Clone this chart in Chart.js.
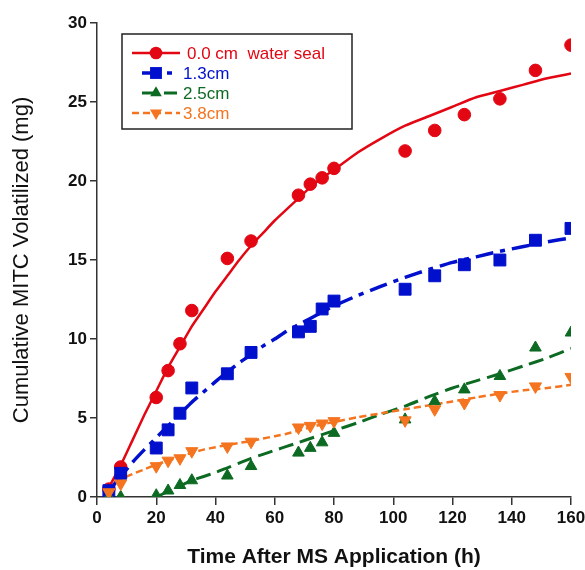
<!DOCTYPE html>
<html>
<head>
    <meta charset="UTF-8">
    <title>Cumulative MITC Volatilized</title>
    <script src="https://cdn.jsdelivr.net/npm/chart.js"></script>
    <style>
        body {
            margin: 0;
            background: #ffffff;
        }
        .chart-container {
            position: relative;
            width: 585px;
            height: 570px;
        }
    </style>
</head>
<body>
    <div class="chart-container">
        <canvas id="mitcChart"></canvas>
    </div>

    <script>
        // Measured data (hours after MS application)
        var sampleHours = [4, 8, 20, 24, 28, 32, 44, 52, 68, 72, 76, 80, 104, 114, 124, 136, 148, 160];
        var seal00 = [0.5, 1.9, 6.3, 8.0, 9.7, 11.8, 15.1, 16.2, 19.1, 19.8, 20.2, 20.8, 21.9, 23.2, 24.2, 25.2, 27.0, 28.6];
        var seal13 = [0.4, 1.5, 3.1, 4.25, 5.3, 6.9, 7.8, 9.15, 10.45, 10.8, 11.9, 12.4, 13.15, 14.0, 14.7, 15.0, 16.25, 17.0];
        var seal25 = [0, 0, 0.1, 0.4, 0.75, 1.05, 1.35, 1.95, 2.8, 3.1, 3.45, 4.05, 4.9, 6.05, 6.8, 7.65, 9.45, 10.4];
        var seal38 = [0.3, 0.85, 1.95, 2.3, 2.45, 2.9, 3.2, 3.5, 4.4, 4.5, 4.65, 4.8, 4.85, 5.55, 5.95, 6.45, 7.0, 7.6];

        // Fitted curves
        var fitHours = [4, 8, 12, 16, 20, 24, 28, 32, 36, 40, 44, 48, 52, 56, 60, 64, 68, 72, 76, 80,
                        88, 96, 104, 112, 120, 128, 136, 144, 152, 160];
        var fit00 = [0.6, 2.0, 3.6, 5.2, 6.7, 8.2, 9.5, 10.8, 11.9, 13.0, 14.0, 15.0, 15.9, 16.7, 17.5, 18.2, 18.9, 19.6, 20.2, 20.7,
                     21.8, 22.7, 23.5, 24.1, 24.7, 25.3, 25.7, 26.1, 26.5, 26.8];
        var fit13 = [0.4, 1.3, 2.2, 3.0, 3.75, 4.5, 5.25, 6.0, 6.65, 7.3, 7.9, 8.5, 9.0, 9.55, 10.0, 10.5, 10.9, 11.3, 11.7, 12.1,
                     12.75, 13.35, 13.9, 14.4, 14.85, 15.2, 15.55, 15.85, 16.15, 16.4];
        var fit25 = [null, null, null, null, 0.0, 0.35, 0.7, 1.05, 1.3, 1.55, 1.85, 2.15, 2.45, 2.7, 2.95, 3.2, 3.45, 3.7, 3.95, 4.2,
                     4.7, 5.25, 5.75, 6.35, 6.9, 7.35, 7.8, 8.3, 8.8, 9.4];
        var fit38 = [0.4, 1.1, 1.45, 1.75, 2.05, 2.3, 2.55, 2.8, 3.0, 3.15, 3.3, 3.42, 3.55, 3.7, 3.85, 4.0, 4.2, 4.4, 4.6, 4.75,
                     5.05, 5.3, 5.55, 5.8, 6.05, 6.3, 6.55, 6.75, 6.9, 7.1];

        var seriesNames = ['0.0 cm  water seal', '1.3cm', '2.5cm', '3.8cm'];
        var xTicks = [0, 20, 40, 60, 80, 100, 120, 140, 160];
        var yTicks = [0, 5, 10, 15, 20, 25, 30];

        // Styles per series
        var colors = ['#e30613', '#0010cc', '#0d6a22', '#f4741f'];
        var dashes = [[], [18, 7, 5, 7], [15, 7], [7, 4]];
        var lineWidths = [2.5, 3.5, 3, 2.5];
        var markers = [
            { style: 'circle', radius: 6.3, rotation: 0 },
            { style: 'rect', radius: 8.4, rotation: 0 },
            { style: 'triangle', radius: 6.7, rotation: 0 },
            { style: 'triangle', radius: 7, rotation: 180 }
        ];

        var measured = [seal00, seal13, seal25, seal38];
        var fitted = [fit00, fit13, fit25, fit38];

        function toPoints(xs, ys) {
            return xs.map(function (x, i) { return { x: x, y: ys[i] }; });
        }

        var datasets = [];
        // fitted lines, drawn underneath
        fitted.forEach(function (ys, i) {
            datasets.push({
                label: seriesNames[i] + ' fit',
                data: toPoints(fitHours, ys),
                borderColor: colors[i],
                borderWidth: lineWidths[i],
                borderDash: dashes[i],
                pointRadius: 0,
                fill: false,
                tension: 0.2,
                order: 8 - i
            });
        });
        // measured points, later series on top
        measured.forEach(function (ys, i) {
            datasets.push({
                label: seriesNames[i],
                data: toPoints(sampleHours, ys),
                showLine: false,
                pointStyle: markers[i].style,
                pointRadius: markers[i].radius,
                pointRotation: markers[i].rotation,
                pointBackgroundColor: colors[i],
                pointBorderColor: colors[i],
                pointBorderWidth: 1,
                order: 4 - i
            });
        });

        function drawMarker(ctx, m, color, x, y) {
            ctx.fillStyle = color;
            ctx.beginPath();
            if (m.style === 'circle') {
                ctx.arc(x, y, m.radius, 0, Math.PI * 2);
            } else if (m.style === 'rect') {
                var s = m.radius * Math.SQRT1_2;
                ctx.rect(x - s, y - s, 2 * s, 2 * s);
            } else {
                var r = m.radius, sign = m.rotation === 180 ? -1 : 1;
                ctx.moveTo(x, y - sign * r);
                ctx.lineTo(x + r * 0.866, y + sign * r * 0.5);
                ctx.lineTo(x - r * 0.866, y + sign * r * 0.5);
                ctx.closePath();
            }
            ctx.fill();
        }

        // Boxed legend inside the plot area
        var boxedLegend = {
            id: 'boxedLegend',
            afterDatasetsDraw: function (chart) {
                var ctx = chart.ctx;
                var area = chart.chartArea;
                var left = area.left + 25;
                var top = area.top + 11;
                ctx.save();
                ctx.strokeStyle = '#222';
                ctx.lineWidth = 1.5;
                ctx.setLineDash([]);
                ctx.strokeRect(left, top, 230, 95);

                seriesNames.forEach(function (name, i) {
                    var y = top + 19 + i * 20;
                    var x0 = (i === 0 || i === 3) ? left + 10 : left + 20;
                    var x1 = (i === 0 || i === 3) ? left + 58 : left + 55;
                    ctx.strokeStyle = colors[i];
                    ctx.lineWidth = lineWidths[i];
                    ctx.setLineDash(dashes[i]);
                    ctx.beginPath();
                    ctx.moveTo(x0, y);
                    ctx.lineTo(x1, y);
                    ctx.stroke();
                    ctx.setLineDash([]);
                    drawMarker(ctx, markers[i], colors[i], left + 34, y);

                    ctx.fillStyle = colors[i];
                    ctx.font = '17px "Liberation Sans", Arial, sans-serif';
                    ctx.textBaseline = 'middle';
                    ctx.textAlign = 'left';
                    ctx.fillText(name, i === 0 ? left + 65 : left + 61, y + 1);
                });
                ctx.restore();
            }
        };

        var tickFont = { family: '"Liberation Sans", Arial, sans-serif', size: 17, weight: 'bold' };

        var ctx = document.getElementById('mitcChart').getContext('2d');
        var mitcChart = new Chart(ctx, {
            type: 'line',
            data: { datasets: datasets },
            plugins: [boxedLegend],
            options: {
                responsive: true,
                maintainAspectRatio: false,
                animation: false,
                layout: {
                    padding: { top: 23, right: 14, left: 0, bottom: 0 }
                },
                plugins: {
                    legend: { display: false },
                    tooltip: { enabled: false }
                },
                scales: {
                    x: {
                        type: 'linear',
                        min: 0,
                        max: 160,
                        afterBuildTicks: function (scale) {
                            scale.ticks = xTicks.map(function (v) { return { value: v }; });
                        },
                        afterFit: function (scale) {
                            scale.height = 73;
                            scale.paddingLeft = 0;
                            scale.paddingRight = 0;
                        },
                        grid: {
                            drawOnChartArea: false,
                            drawTicks: true,
                            tickLength: 8,
                            color: '#333',
                            lineWidth: 1.5
                        },
                        border: { display: true, color: '#333', width: 1.5 },
                        ticks: {
                            font: tickFont,
                            color: '#111',
                            padding: 3,
                            maxRotation: 0
                        },
                        title: {
                            display: true,
                            text: 'Time After MS Application (h)',
                            font: { family: '"Liberation Sans", Arial, sans-serif', size: 21, weight: 'bold' },
                            color: '#111',
                            padding: { top: 0, bottom: 0 }
                        }
                    },
                    y: {
                        type: 'linear',
                        min: 0,
                        max: 30,
                        afterBuildTicks: function (scale) {
                            scale.ticks = yTicks.map(function (v) { return { value: v }; });
                        },
                        afterFit: function (scale) {
                            scale.width = 97;
                            scale.paddingTop = 0;
                            scale.paddingBottom = 0;
                        },
                        grid: {
                            drawOnChartArea: false,
                            drawTicks: true,
                            tickLength: 7,
                            color: '#333',
                            lineWidth: 1.5
                        },
                        border: { display: true, color: '#333', width: 1.5 },
                        ticks: {
                            font: tickFont,
                            color: '#111',
                            padding: 3
                        },
                        title: {
                            display: true,
                            text: 'Cumulative MITC Volatilized (mg)',
                            font: { family: '"Liberation Sans", Arial, sans-serif', size: 22 },
                            color: '#111',
                            padding: { top: 9, bottom: 0 }
                        }
                    }
                }
            }
        });
    </script>
</body>
</html>
